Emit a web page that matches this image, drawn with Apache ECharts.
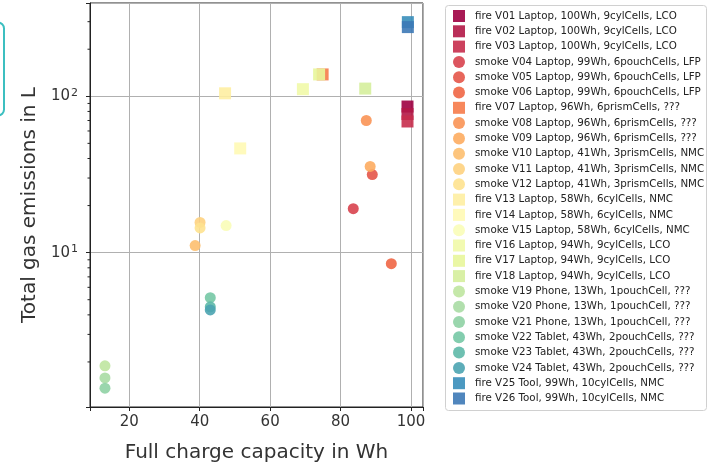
<!DOCTYPE html>
<html>
<head>
<meta charset="utf-8">
<script src="https://cdn.jsdelivr.net/npm/echarts@6/dist/echarts.min.js"></script>
<style>
  html, body { margin: 0; padding: 0; background: #fff; }
  #chart { width: 710px; height: 463px; }
</style>
</head>
<body>
<div id="chart"></div>
<script>
// one point per test
const seriesNames = [
  'fire V01 Laptop, 100Wh, 9cylCells, LCO',
  'fire V02 Laptop, 100Wh, 9cylCells, LCO',
  'fire V03 Laptop, 100Wh, 9cylCells, LCO',
  'smoke V04 Laptop, 99Wh, 6pouchCells, LFP',
  'smoke V05 Laptop, 99Wh, 6pouchCells, LFP',
  'smoke V06 Laptop, 99Wh, 6pouchCells, LFP',
  'fire V07 Laptop, 96Wh, 6prismCells, ???',
  'smoke V08 Laptop, 96Wh, 6prismCells, ???',
  'smoke V09 Laptop, 96Wh, 6prismCells, ???',
  'smoke V10 Laptop, 41Wh, 3prismCells, NMC',
  'smoke V11 Laptop, 41Wh, 3prismCells, NMC',
  'smoke V12 Laptop, 41Wh, 3prismCells, NMC',
  'fire V13 Laptop, 58Wh, 6cylCells, NMC',
  'fire V14 Laptop, 58Wh, 6cylCells, NMC',
  'smoke V15 Laptop, 58Wh, 6cylCells, NMC',
  'fire V16 Laptop, 94Wh, 9cylCells, LCO',
  'fire V17 Laptop, 94Wh, 9cylCells, LCO',
  'fire V18 Laptop, 94Wh, 9cylCells, LCO',
  'smoke V19 Phone, 13Wh, 1pouchCell, ???',
  'smoke V20 Phone, 13Wh, 1pouchCell, ???',
  'smoke V21 Phone, 13Wh, 1pouchCell, ???',
  'smoke V22 Tablet, 43Wh, 2pouchCells, ???',
  'smoke V23 Tablet, 43Wh, 2pouchCells, ???',
  'smoke V24 Tablet, 43Wh, 2pouchCells, ???',
  'fire V25 Tool, 99Wh, 10cylCells, NMC',
  'fire V26 Tool, 99Wh, 10cylCells, NMC'
]
const capacityWh = [99, 99, 99, 83.6, 89, 94.4, 74.9, 87.3, 88.4, 38.7, 40.1, 40.1,
  47.2, 51.5, 47.5, 69.3, 73.9, 87, 13.1, 13.1, 13.1, 43, 43, 43, 99.1, 99.1]
const gasL = [86, 77, 69, 19.1, 31.6, 8.5, 138, 70, 35.6, 11.1, 15.6, 14.4,
  104.5, 46.4, 14.9, 111, 138, 112, 1.89, 1.58, 1.36, 5.15, 4.5, 4.3, 298, 277]

const xTicks = [20, 40, 60, 80, 100]
const yMinorTicks = [2, 3, 4, 5, 6, 7, 8, 9, 20, 30, 40, 50, 60, 70, 80, 90, 200, 300]

const X_MIN = 8.85, X_MAX = 103.4
const Y_MIN = 1.03, Y_MAX = 395

// Spectral colormap, sampled like plt.cm.Spectral(np.linspace(0, 1, 28))[:26]
const spectral = [
  [158, 1, 66], [213, 62, 79], [244, 109, 67], [253, 174, 97], [254, 224, 139], [255, 255, 191],
  [230, 245, 152], [171, 221, 164], [102, 194, 165], [50, 136, 189], [94, 79, 162]
]
function cmap(t) {
  const p = t * 10, i = Math.min(9, Math.floor(p)), f = p - i
  const a = spectral[i], b = spectral[i + 1]
  return 'rgb(' + a.map((v, k) => Math.round(v + (b[k] - v) * f)).join(',') + ')'
}

const series = seriesNames.map((name, i) => {
  const isFire = name.startsWith('fire')
  return {
    name,
    type: 'scatter',
    data: [[capacityWh[i], gasL[i]]],
    symbol: isFire ? 'rect' : 'circle',
    symbolSize: isFire ? 12 : 11,
    itemStyle: { color: cmap(i / 27), opacity: 0.9 }
  }
})

// log minor ticks on the y axis (matplotlib style)
series.push({
  type: 'custom',
  silent: true,
  clip: false,
  data: yMinorTicks.map(v => [X_MIN, v]),
  renderItem: (params, api) => {
    const p = api.coord([api.value(0), api.value(1)])
    return {
      type: 'line',
      shape: { x1: p[0] - 2.5, y1: p[1], x2: p[0], y2: p[1] },
      style: { stroke: '#222', lineWidth: 1 }
    }
  }
})

const isPow10 = v => Math.abs(Math.log10(v) - Math.round(Math.log10(v))) < 1e-6

const chart = echarts.init(document.getElementById('chart'))
chart.setOption({
  backgroundColor: '#fff',
  animation: false,
  textStyle: { fontFamily: 'DejaVu Sans' },
  grid: {
    left: 90, right: 287, top: 3, bottom: 56,
    containLabel: false, outerBoundsMode: 'none',
    show: true, borderColor: '#222', borderWidth: 1
  },
  xAxis: {
    type: 'value', min: X_MIN, max: X_MAX,
    name: 'Full charge capacity in Wh',
    nameLocation: 'middle', nameGap: 36,
    nameTextStyle: { fontSize: 20, color: '#333' },
    axisLine: { onZero: false, lineStyle: { color: '#222' } },
    axisTick: { length: 4, lineStyle: { color: '#222' } },
    axisLabel: {
      fontSize: 15, color: '#333', margin: 8,
      formatter: v => xTicks.includes(Math.round(v * 1000) / 1000) ? String(v) : ''
    },
    splitLine: { lineStyle: { color: '#b0b0b0' } }
  },
  yAxis: {
    type: 'log', logBase: 10, min: Y_MIN, max: Y_MAX,
    name: 'Total gas emissions in L',
    nameLocation: 'middle', nameGap: 50,
    nameTextStyle: { fontSize: 20, color: '#333' },
    axisLine: { lineStyle: { color: '#222' } },
    axisTick: { length: 4, lineStyle: { color: '#222' } },
    axisLabel: {
      color: '#333', margin: 12,
      formatter: v => isPow10(v) ? '{n|10}{e|' + Math.round(Math.log10(v)) + '}' : '',
      rich: {
        n: { fontSize: 15, color: '#333', fontFamily: 'DejaVu Sans', lineHeight: 18 },
        e: { fontSize: 11, color: '#333', fontFamily: 'DejaVu Sans', verticalAlign: 'top', padding: [0, 0, 0, 1] }
      }
    },
    splitLine: { lineStyle: { color: '#b0b0b0' } }
  },
  legend: {
    data: seriesNames,
    orient: 'vertical',
    left: 453, top: 10,
    padding: 0,
    itemWidth: 12, itemHeight: 12, itemGap: 3.3,
    textStyle: { fontSize: 10.3, color: '#222', lineHeight: 12, padding: [0, 0, 0, 5] }
  },
  graphic: [
    {
      type: 'rect', left: 445, top: 5, silent: true, z: -1,
      shape: { width: 261, height: 405, r: 3 },
      style: { fill: '#fff', stroke: '#d0d0d0', lineWidth: 1 }
    },
    {
      type: 'rect', left: -20, top: 20, silent: true,
      shape: { width: 21.5, height: 93, r: 6 },
      style: { fill: 'none', stroke: '#3cbfc0', lineWidth: 2 }
    }
  ],
  series
})
</script>
</body>
</html>
